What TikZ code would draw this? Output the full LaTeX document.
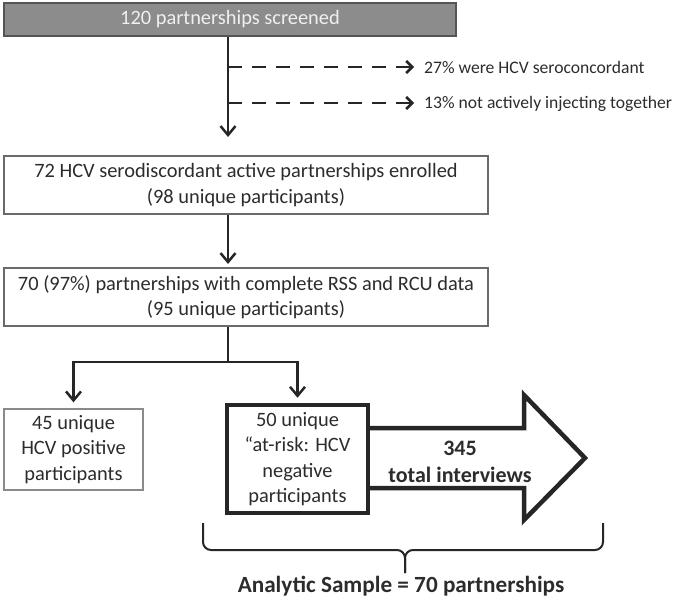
\documentclass[tikz,border=0pt]{standalone}
\usepackage{fontspec}
\setmainfont{Carlito}
\usetikzlibrary{arrows.meta}
\definecolor{txt}{HTML}{2C2C2C}
\definecolor{boxgray}{HTML}{6A6A6A}
\definecolor{lightbox}{HTML}{8A8A8A}
\definecolor{topfill}{HTML}{8C8C8C}
\definecolor{topdraw}{HTML}{555555}
\definecolor{toptxt}{HTML}{F0F0F0}
\definecolor{dark}{HTML}{262626}
\begin{document}
\begin{tikzpicture}[x=1pt,y=-1pt,
  box/.style={draw=boxgray, line width=1.3pt, fill=white, inner sep=0pt, align=center,
    font=\fontsize{20.4}{25.5}\selectfont, text=txt},
  topbox/.style={draw=topdraw, line width=1.5pt, fill=topfill, inner sep=0pt, align=center,
    font=\fontsize{20.4}{25.5}\selectfont, text=toptxt},
  lbl/.style={inner sep=0pt, anchor=west, font=\fontsize{17.6}{20}\selectfont, text=txt},
  bold/.style={inner sep=0pt, font=\fontsize{22}{26}\selectfont\bfseries, text=txt},
  conn/.style={draw=dark, line width=2.5pt},
  arr/.style={conn, -{Straight Barb[length=9pt,width=15pt,line width=2.5pt]}},
  dsh/.style={draw=dark, line width=2.5pt, dash pattern=on 14pt off 10pt,
    -{Straight Barb[length=6pt,width=12pt,line width=2.5pt]}},
  bracestyle/.style={draw=dark, line width=2pt, rounded corners=8pt},
]
\useasboundingbox (0,0) rectangle (676,599);

% nodes
\node[topbox, minimum width=452pt, minimum height=33pt] (top) at (230,19.5) {120 partnerships screened};
\node[box, minimum width=484pt, minimum height=58pt] (enr) at (246,185)
  {72 HCV serodiscordant active partnerships enrolled\\(98 unique participants)};
\node[box, minimum width=484pt, minimum height=58pt] (cmp) at (246,297)
  {70 (97\%) partnerships with complete RSS and RCU data\\(95 unique participants)};
\node[box, draw=lightbox, minimum width=139pt, minimum height=81pt] (pos) at (73.5,449.5)
  {45 unique\\HCV positive\\participants};

% big arrow
\draw[draw=dark, line width=4.5pt, line join=miter, fill=white]
  (367,428) -- (524,428) -- (524,395) -- (585,458) -- (524,520) -- (524,488) -- (367,488);
\node[box, draw=dark, line width=4.5pt, minimum width=141pt, minimum height=108pt] (neg) at (297.5,459)
  {50 unique\\“at-risk: HCV\\negative\\participants};
\node[bold, anchor=base] (n345) at (460,455) {345};
\node[bold, anchor=base] (tot) at (460,482) {total interviews};

% coordinates
\coordinate (s) at (228,0);
\coordinate (a1) at (228,137);
\coordinate (a2) at (228,264);
\coordinate (d1) at (228,67);
\coordinate (d2) at (228,103);
\coordinate (j) at (228,362);

\node[lbl] (l1) at (424,67) {27\% were HCV seroconcordant};
\node[lbl] (l2) at (424,104) {13\% not actively injecting together};

% connectors
\draw[arr] (top.south -| s) -- (a1);
\draw[dsh, shorten >=10pt] (d1) -- (l1.west |- d1);
\draw[dsh, shorten >=10pt] (d2) -- (l2.west |- d2);
\draw[arr] (enr.south -| s) -- (a2);
\draw[conn] (cmp.south -| s) -- (j);
\draw[arr, shorten >=6pt] (j) -| (pos.north);
\draw[arr, shorten >=5pt] (j) -| (neg.north);

% brace
\coordinate (bl) at (203,523);
\coordinate (br) at (603,523);
\coordinate (bm) at (405,550);
\coordinate (bt) at (405,573);
\draw[bracestyle] (bl) -- (bl |- bm) -- (bm) -- (bt);
\draw[bracestyle] (br) -- (br |- bm) -- (bm) -- (bt);

\node[bold, font=\fontsize{23.2}{27}\selectfont\bfseries] (an) at (401,586) {Analytic Sample = 70 partnerships};
\end{tikzpicture}
\end{document}
